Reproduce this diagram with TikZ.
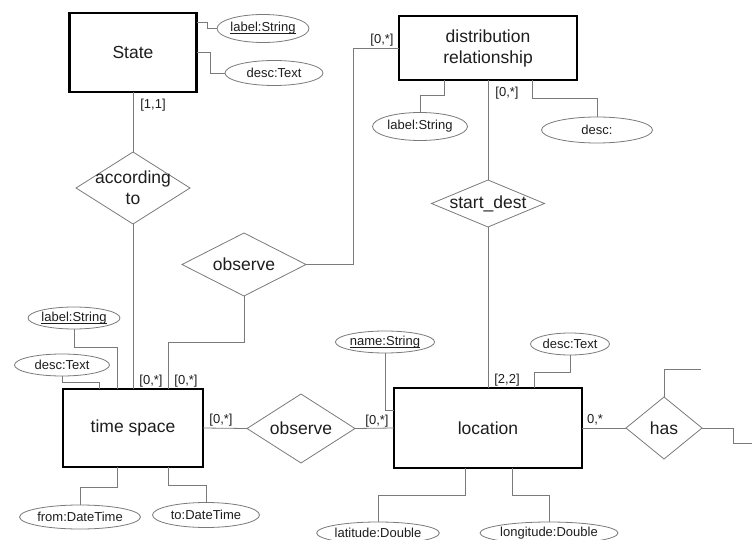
\documentclass[tikz,border=0pt]{standalone}
\usepackage{fontspec}
\setmainfont{Liberation Sans}
\usetikzlibrary{shapes.geometric}
\definecolor{lg}{HTML}{7A7A7A}
\definecolor{tx}{HTML}{1E1E1E}
\newcommand\myul[1]{\setbox0\hbox{#1}\rlap{\rule[-2pt]{\wd0}{0.6pt}}\box0}
\begin{document}
\begin{tikzpicture}[x=1pt,y=-1pt,
 ent/.style={draw=black,line width=2.4pt,fill=white,inner sep=0pt,outer sep=0pt,align=center,text=tx,font=\fontsize{17.5}{21}\selectfont},
 rel/.style={draw=lg,line width=0.8pt,fill=white,shape=diamond,inner sep=0pt,outer sep=0pt},
 attr/.style={draw=lg,line width=0.8pt,fill=white,ellipse,inner sep=0pt,outer sep=0pt,text=tx,font=\fontsize{13}{15}\selectfont},
 card/.style={inner sep=0pt,text=tx,font=\fontsize{13}{15}\selectfont},
 con/.style={draw=lg,line width=0.8pt},
 rlab/.style={inner sep=0pt,text=tx,font=\fontsize{17.5}{21}\selectfont,align=center}]
\useasboundingbox (0,0) rectangle (752,540);
\clip (0,0) rectangle (752,540);
% entities
\node[ent,minimum width=127pt,minimum height=79pt] (state) at (133,52.5) {State};
\node[ent,minimum width=178pt,minimum height=64pt] (dist) at (488,48) {distribution\\relationship};
\node[ent,minimum width=140pt,minimum height=78pt] (ts) at (133,428) {time space};
\node[ent,minimum width=188pt,minimum height=80pt] (loc) at (488,428) {location};
% relationships
\node[rel,minimum width=114pt,minimum height=72pt] (accto) at (133,188) {};
\node[rlab] (accto-t) at (accto) {according\\to};
\node[rel,minimum width=124pt,minimum height=63pt] (obs1) at (244,264.5) {};
\node[rlab] (obs1-t) at (obs1) {observe};
\node[rel,minimum width=113pt,minimum height=47pt] (sd) at (488,203.5) {};
\node[rlab] (sd-t) at (sd) {start\_dest};
\node[rel,minimum width=108pt,minimum height=69pt] (obs2) at (301,428.5) {};
\node[rlab] (obs2-t) at (obs2) {observe};
\node[rel,minimum width=76pt,minimum height=62pt] (has) at (664,428) {};
\node[rlab] (has-t) at (has) {has};
% attributes
\node[attr,minimum width=84pt,minimum height=28pt] (sLabel) at (263,28.5) {\myul{label:String}};
\node[attr,minimum width=98pt,minimum height=25pt] (sDesc) at (274,73) {desc:Text};
\node[attr,minimum width=95pt,minimum height=28pt] (dLabel) at (420,126.5) {label:String};
\node[attr,minimum width=111pt,minimum height=26pt] (dDesc) at (597,130) {desc:};
\node[attr,minimum width=88pt,minimum height=22pt] (tLabel) at (74,318) {\myul{label:String}};
\node[attr,minimum width=95pt,minimum height=22pt] (tDesc) at (62,365) {desc:Text};
\node[attr,minimum width=118pt,minimum height=24pt] (tFrom) at (80,517) {from:DateTime};
\node[attr,minimum width=107pt,minimum height=25pt] (tTo) at (206,515) {to:DateTime};
\node[attr,minimum width=94pt,minimum height=22pt] (lName) at (385,342) {\myul{name:String}};
\node[attr,minimum width=79pt,minimum height=22pt] (lDesc) at (570,344) {desc:Text};
\node[attr,minimum width=110pt,minimum height=22pt] (lLat) at (378,533) {latitude:Double};
\node[attr,minimum width=122pt,minimum height=22pt] (lLong) at (549,533) {longitude:Double};
% free ends
\coordinate (hasUp) at (701,369);
\coordinate (hasRight) at (752,443);
% connectors
\draw[con] (state.east |- 0,22) -- ++(11,0) |- (sLabel.west);
\draw[con] (state.east |- 0,52) -- ++(14,0) |- (sDesc.west);
\draw[con] (state.south) -- (accto.north);
\draw[con] (accto.south) -- (ts.north);
\draw[con] (obs1.east) -- ++(47,0) |- (dist.west);
\draw[con] (obs1.south) -- ++(0,46) -| ([xshift=35pt]ts.north);
\draw[con] (ts.east) -- (obs2.west);
\draw[con] (obs2.east) -- (loc.west);
\draw[con] (dist.south) -- (sd.north);
\draw[con] (sd.south) -- (loc.north);
\draw[con] (loc.east) -- (has.west);
\draw[con] (has.north) |- (hasUp);
\draw[con] (has.east) -- ++(31,0) |- (hasRight);
\draw[con] ([xshift=-44pt]dist.south) -- ++(0,15) -| (dLabel.north);
\draw[con] ([xshift=44pt]dist.south) -- ++(0,18) -| (dDesc.north);
\draw[con] (tLabel.south) -- ++(0,18) -| ([xshift=-16pt]ts.north);
\draw[con] (tDesc.south) -- ++(0,6) -| ([xshift=-34pt]ts.north);
\draw[con] ([xshift=-16pt]ts.south) -- ++(0,20) -| (tFrom.north);
\draw[con] ([xshift=35pt]ts.south) -- ++(0,18) -| (tTo.north);
\draw[con] (lName.south) |- ([yshift=18pt]loc.west);
\draw[con] (lDesc.south) -- ++(0,17) -| ([xshift=46pt]loc.north);
\draw[con] ([xshift=-23pt]loc.south) -- ++(0,27) -| (lLat.north);
\draw[con] ([xshift=24pt]loc.south) -- ++(0,27) -| (lLong.north);
% cardinalities
\node[card] (c1) at (153,105) {[1,1]};
\node[card] (c2) at (382,40) {[0,*]};
\node[card] (c3) at (507,93) {[0,*]};
\node[card] (c4) at (151,381) {[0,*]};
\node[card] (c5) at (186,381) {[0,*]};
\node[card] (c6) at (221,420) {[0,*]};
\node[card] (c7) at (377,421) {[0,*]};
\node[card] (c8) at (507,380) {[2,2]};
\node[card] (c9) at (595,420) {0,*};
\end{tikzpicture}
\end{document}
